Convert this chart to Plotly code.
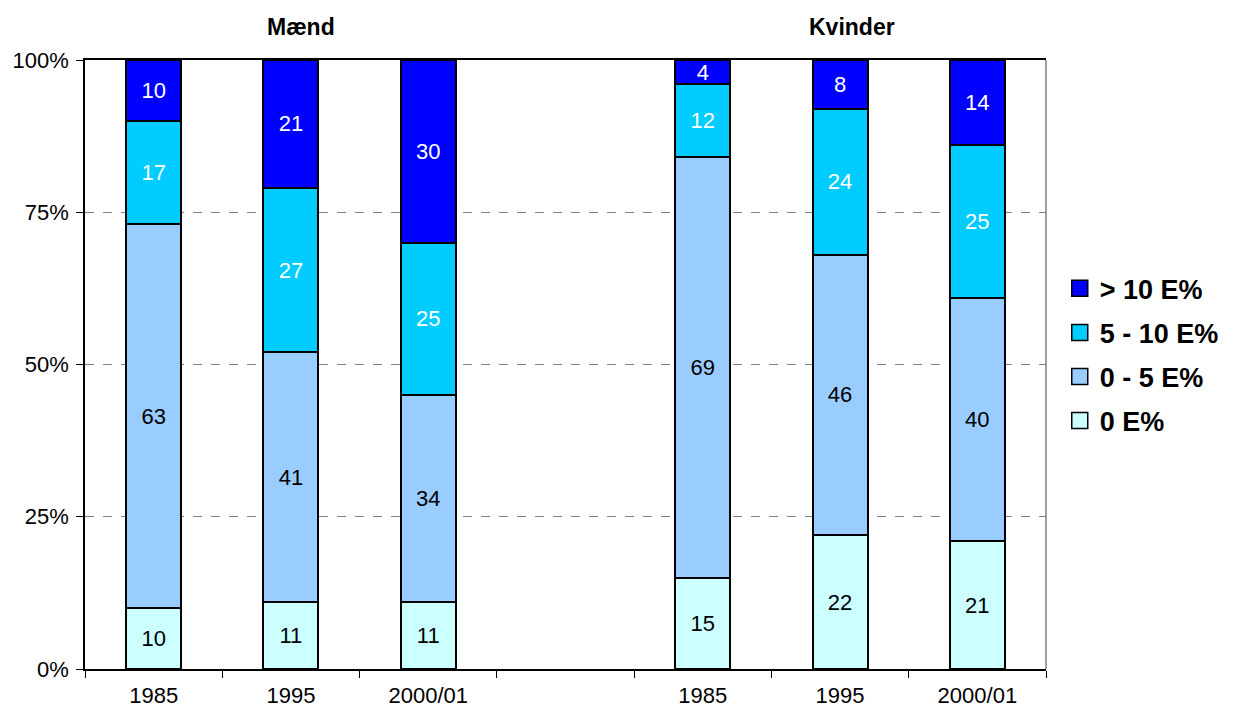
import plotly.graph_objects as go

categories = ["M-1985", "M-1995", "M-2000/01", "gap", "K-1985", "K-1995", "K-2000/01"]
tick_labels = ["1985", "1995", "2000/01", "", "1985", "1995", "2000/01"]

series_names = ["0 E%", "0 - 5 E%", "5 - 10 E%", "> 10 E%"]
v_0 = [10, 11, 11, None, 15, 22, 21]
v_0_5 = [63, 41, 34, None, 69, 46, 40]
v_5_10 = [17, 27, 25, None, 12, 24, 25]
v_10p = [10, 21, 30, None, 4, 8, 14]
series_values = [v_0, v_0_5, v_5_10, v_10p]
colors = ["#CCFFFF", "#99CCFF", "#00CCFF", "#0000FF"]
text_colors = ["black", "black", "white", "white"]
legend_ranks = [4, 3, 2, 1]

FONT = "Liberation Sans, Arial, sans-serif"

fig = go.Figure()
for i, (name, vals, col, tc) in enumerate(zip(series_names, series_values, colors, text_colors)):
    fig.add_trace(go.Bar(
        x=categories, y=vals, name=name, legendgroup=f"g{i}",
        showlegend=False,
        marker=dict(color=col, line=dict(color="black", width=2)),
        width=0.4,
        text=[("" if v is None else str(v)) for v in vals],
        textposition="inside", insidetextanchor="middle", textangle=0,
        constraintext="none",
        textfont=dict(color=tc, size=22, family=FONT),
        hoverinfo="skip",
    ))
    # legend entry with a larger square swatch
    fig.add_trace(go.Scatter(
        x=[None], y=[None], mode="markers", name=name, legendgroup=f"g{i}",
        legendrank=legend_ranks[i], showlegend=True,
        marker=dict(symbol="square", size=16, color=col,
                    line=dict(color="black", width=1.5)),
        hoverinfo="skip",
    ))

fig.update_layout(
    width=1229, height=705,
    barmode="stack",
    plot_bgcolor="white", paper_bgcolor="white",
    margin=dict(l=77, r=191, t=52, b=44),
    font=dict(family=FONT, size=22, color="black"),
    legend=dict(
        x=1.0143, y=0.516, xanchor="left", yanchor="middle",
        traceorder="grouped", tracegroupgap=6,
        font=dict(size=27, family=FONT, weight="bold"),
        itemwidth=30,
    ),
    showlegend=True,
)

fig.update_xaxes(
    type="category",
    tickvals=categories, ticktext=tick_labels,
    tickson="boundaries", ticks="outside", ticklen=7, tickcolor="black",
    showline=True, linecolor="black", linewidth=1.5, mirror=True,
    showgrid=False, automargin=False, ticklabelstandoff=6,
    tickfont=dict(size=22, family=FONT),
)
fig.update_yaxes(
    range=[0, 100],
    tickvals=[0, 25, 50, 75, 100],
    ticktext=["0%", "25%", "50%", "75%", "100%"],
    ticks="outside", ticklen=7, tickcolor="black",
    showline=True, linecolor="black", linewidth=1.5,
    showgrid=True, gridcolor="#808080", griddash="dash", gridwidth=1,
    zeroline=False, automargin=False, ticklabelstandoff=3,
    tickfont=dict(size=22, family=FONT),
)

# right border of plot area (gray)
fig.add_shape(type="line", xref="paper", yref="paper", x0=1, x1=1, y0=0, y1=1,
              line=dict(color="#808080", width=1.5))

fig.add_annotation(text="<b>Mænd</b>", x="M-1995", xref="x", y=1, yref="paper",
                   yanchor="bottom", yshift=18, xshift=10, showarrow=False,
                   font=dict(size=23, family=FONT))
fig.add_annotation(text="<b>Kvinder</b>", x="K-1995", xref="x", y=1, yref="paper",
                   yanchor="bottom", yshift=18, xshift=12, showarrow=False,
                   font=dict(size=23, family=FONT))

fig.write_html("out.html")
